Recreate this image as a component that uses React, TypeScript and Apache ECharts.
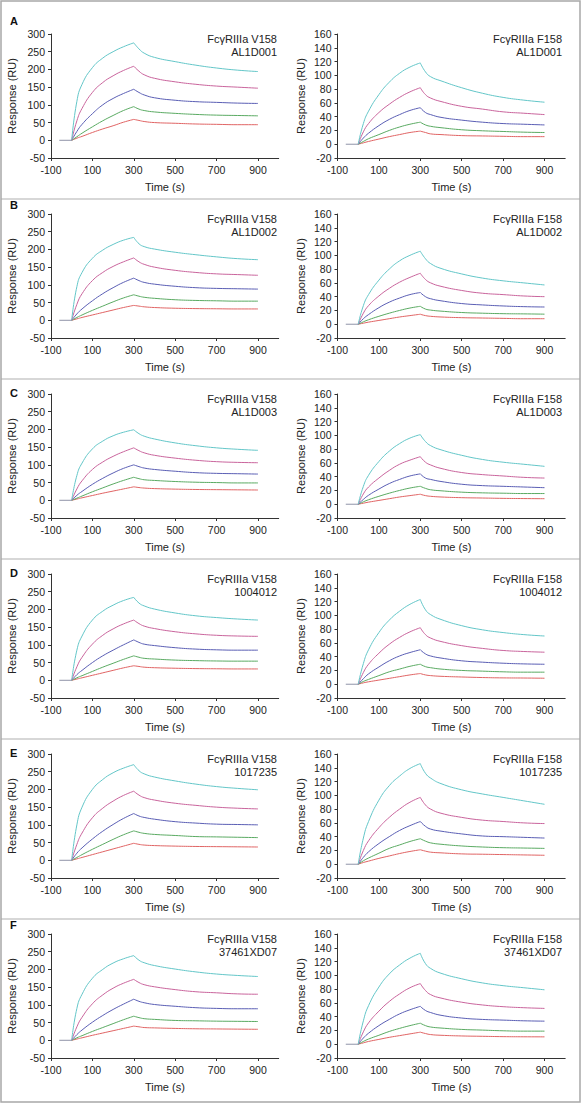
import React, { useEffect, useRef } from "react";
import * as echarts from "echarts";

const ROW_LETTERS = ["A", "B", "C", "D", "E", "F"];
const ANTIBODIES = ["AL1D001", "AL1D002", "AL1D003", "1004012", "1017235", "37461XD07"];
const RECEPTORS = ["FcγRIIIa V158", "FcγRIIIa F158"];
const CURVE_COLORS = ["#63c6c8", "#c9649c", "#5a5eb4", "#5aaa62", "#e06464"];
const BASELINE_COLOR = "#8f93a8";

const BASELINE_T = [-60, 0];
const BASELINE_Y = [0, 0];
const ASSOC_T = [0, 25, 50, 100, 150, 200, 250, 300];
const DISSOC_T = [325, 350, 400, 500, 600, 700, 800, 900];
const X_TICKS = [-100, 100, 300, 500, 700, 900];

const V158_AXIS = { min: -50, max: 300, interval: 50 };
const F158_AXIS = { min: -20, max: 160, interval: 20 };

// each: [cyan, magenta, blue, green, red]
const A_V158_ASSOC = [
  [0, 110, 158, 205, 232, 250, 264, 275],
  [0, 55, 90, 135, 163, 182, 197, 209],
  [0, 25, 45, 75, 100, 118, 132, 144],
  [0, 10, 20, 38, 55, 70, 84, 95],
  [0, 6, 11, 22, 32, 41, 51, 59],
];
const A_V158_DISSOC = [
  [258, 246, 234, 222, 212, 204, 198, 194],
  [195, 185, 175, 165, 158, 153, 150, 147],
  [135, 128, 120, 113, 109, 107, 105, 104],
  [88, 84, 80, 76, 73, 71, 70, 69],
  [56, 53, 50, 48, 46, 45, 44, 44],
];
const A_F158_ASSOC = [
  [0, 30, 48, 72, 90, 103, 112, 118],
  [0, 18, 30, 46, 58, 68, 76, 82],
  [0, 9, 16, 27, 36, 43, 49, 53],
  [0, 4, 8, 14, 20, 25, 29, 32],
  [0, 2, 4, 7.5, 11, 14, 17, 19],
];
const A_F158_DISSOC = [
  [105, 98, 92, 82, 74, 68, 64, 61],
  [72, 67, 62, 55, 51, 47, 45, 43],
  [46, 43, 39, 35, 32, 30, 29, 28],
  [28, 26, 24, 21, 19.5, 18.5, 17.5, 17],
  [17, 15, 14, 12.5, 12, 11.5, 11, 11],
];

const B_V158_ASSOC = [
  [0, 95, 135, 175, 198, 214, 226, 234],
  [0, 45, 75, 112, 135, 152, 165, 176],
  [0, 18, 32, 55, 75, 92, 107, 119],
  [0, 8, 15, 28, 40, 52, 63, 72],
  [0, 4, 8, 15, 22, 29, 36, 42],
];
const B_V158_DISSOC = [
  [216, 208, 201, 192, 185, 179, 174, 171],
  [165, 158, 150, 141, 135, 131, 129, 127],
  [112, 107, 102, 96, 92, 90, 89, 88],
  [68, 65, 62, 58, 56, 55, 54, 54],
  [40, 38, 36, 34, 33, 32.5, 32, 32],
];
const B_F158_ASSOC = [
  [0, 27, 43, 64, 80, 92, 100, 106],
  [0, 16, 27, 41, 52, 61, 68, 74],
  [0, 8, 14, 24, 32, 38, 43, 46],
  [0, 3.5, 6.5, 11.5, 16, 20, 23.5, 26],
  [0, 1.5, 3, 5.5, 8, 10.5, 12.5, 14.5],
];
const B_F158_DISSOC = [
  [95, 88, 81, 73, 67, 63, 60, 57],
  [65, 60, 55, 49, 45, 43, 41, 40],
  [40, 37, 34, 30, 28, 26.5, 25.5, 25],
  [22, 20.5, 19, 17, 16, 15.3, 15, 14.6],
  [12.5, 11.5, 10.5, 9.5, 9, 8.5, 8, 8],
];

const C_V158_ASSOC = [
  [0, 70, 105, 145, 167, 182, 192, 199],
  [0, 32, 55, 87, 108, 124, 137, 148],
  [0, 14, 25, 45, 62, 77, 90, 100],
  [0, 6, 12, 24, 35, 46, 56, 65],
  [0, 3.5, 7, 13.5, 20, 26, 32, 38],
];
const C_V158_DISSOC = [
  [188, 181, 173, 162, 154, 148, 144, 141],
  [140, 134, 127, 119, 113, 109, 107, 106],
  [95, 91, 87, 82, 78, 76, 75, 74],
  [61, 58, 56, 53, 51, 50, 49, 49],
  [36, 34.5, 33, 31.5, 30.5, 30, 29.5, 29],
];
const C_F158_ASSOC = [
  [0, 26, 42, 62, 77, 88, 96, 101],
  [0, 15, 25, 38, 49, 58, 64, 69],
  [0, 7, 13, 22, 30, 36, 41, 44],
  [0, 3.5, 6.5, 11.5, 16, 20, 23.5, 26],
  [0, 1.5, 3, 5.5, 8, 10.5, 12.5, 14.5],
];
const C_F158_DISSOC = [
  [91, 85, 79, 71, 65, 61, 58, 55],
  [61, 57, 52, 46, 43, 41, 39, 38],
  [38, 36, 33, 29, 27, 26, 25, 24],
  [23, 21, 19.5, 17.5, 16.5, 16, 15.5, 15.5],
  [12.5, 11.5, 10.5, 9.5, 9, 8.5, 8.2, 8],
];

const D_V158_ASSOC = [
  [0, 85, 125, 170, 195, 212, 225, 234],
  [0, 38, 65, 102, 127, 145, 159, 170],
  [0, 16, 28, 50, 69, 85, 100, 114],
  [0, 7, 13, 25, 37, 48, 59, 69],
  [0, 3.5, 7, 14, 21, 28, 35, 41],
];
const D_V158_DISSOC = [
  [218, 210, 201, 190, 182, 177, 173, 170],
  [160, 153, 146, 137, 131, 127, 125, 124],
  [107, 102, 98, 92, 88, 86, 85, 85],
  [65, 62, 60, 57, 55.5, 54.5, 54, 54],
  [39, 37, 35.5, 34, 33, 32.5, 32, 32],
];
const D_F158_ASSOC = [
  [0, 30, 50, 75, 93, 106, 116, 123],
  [0, 17, 29, 45, 58, 68, 76, 82],
  [0, 8, 15, 25, 34, 41, 46, 50],
  [0, 4, 7, 12.5, 18, 22, 26, 29],
  [0, 2, 3.5, 6, 8.5, 11, 13.5, 15.5],
];
const D_F158_DISSOC = [
  [108, 101, 94, 85, 79, 75, 72, 70],
  [72, 67, 62, 56, 52, 49, 47.5, 46.5],
  [44, 41, 38, 34, 32, 30.5, 29.5, 29],
  [25.5, 24, 22, 20, 19, 18, 17.5, 17.5],
  [13.5, 12.5, 11.5, 10.5, 9.7, 9.2, 9, 8.7],
];

const E_V158_ASSOC = [
  [0, 100, 150, 200, 228, 247, 260, 270],
  [0, 45, 77, 120, 147, 167, 183, 195],
  [0, 20, 35, 60, 82, 101, 118, 132],
  [0, 8, 16, 31, 45, 59, 72, 83],
  [0, 4, 8, 16, 24, 32, 40, 48],
];
const E_V158_DISSOC = [
  [253, 244, 235, 224, 215, 208, 203, 199],
  [184, 177, 170, 161, 155, 150, 147, 145],
  [125, 121, 116, 109, 105, 102, 101, 100],
  [79, 76, 73, 70, 67, 66, 65, 64],
  [45, 43, 41.5, 40, 39, 38.5, 38, 37.5],
];
const E_F158_ASSOC = [
  [0, 38, 62, 93, 114, 128, 139, 146],
  [0, 20, 34, 53, 68, 80, 90, 97],
  [0, 10, 18, 30, 40, 49, 56, 62],
  [0, 5, 9, 16, 23, 28, 33, 37],
  [0, 2.5, 4.5, 8.5, 12, 15.5, 18.5, 21],
];
const E_F158_DISSOC = [
  [132, 125, 117, 108, 102, 97, 92, 87],
  [86, 80, 74, 68, 64, 62, 60, 59],
  [55, 51, 48, 44, 41, 40, 39, 38],
  [33.5, 31, 29, 26.5, 25, 24, 23.5, 23],
  [19, 17.5, 16.5, 15, 14.5, 14, 13.5, 13],
];

const F_V158_ASSOC = [
  [0, 90, 130, 175, 200, 218, 230, 239],
  [0, 38, 65, 103, 128, 147, 161, 172],
  [0, 16, 29, 51, 70, 87, 102, 116],
  [0, 7, 13, 25, 36, 47, 58, 68],
  [0, 3.5, 7, 14, 20.5, 27, 33.5, 40],
];
const F_V158_DISSOC = [
  [226, 219, 211, 201, 193, 187, 183, 180],
  [163, 157, 151, 143, 137, 134, 131, 130],
  [110, 106, 101, 96, 92, 90, 89, 89],
  [64, 61, 59, 56, 55, 54, 53.5, 53],
  [38, 36, 35, 33.5, 32.5, 32, 31.5, 31],
];
const F_F158_ASSOC = [
  [0, 34, 56, 83, 102, 115, 125, 132],
  [0, 18, 31, 48, 62, 73, 82, 88],
  [0, 9, 16, 27, 36, 44, 50, 55],
  [0, 4, 7.5, 13, 18.5, 23, 27, 30.5],
  [0, 2, 4, 7, 10, 12.5, 15, 17.5],
];
const F_F158_DISSOC = [
  [117, 110, 103, 95, 89, 85, 82, 79],
  [78, 72, 67, 61, 57, 54.5, 53, 52],
  [49, 46, 42, 38, 36, 35, 34, 33.5],
  [27, 25, 23.5, 21.5, 20.5, 19.5, 19, 19],
  [15.5, 14, 13, 12, 11.5, 11, 10.8, 10.7],
];

const PANELS = [
  [[A_V158_ASSOC, A_V158_DISSOC], [A_F158_ASSOC, A_F158_DISSOC]],
  [[B_V158_ASSOC, B_V158_DISSOC], [B_F158_ASSOC, B_F158_DISSOC]],
  [[C_V158_ASSOC, C_V158_DISSOC], [C_F158_ASSOC, C_F158_DISSOC]],
  [[D_V158_ASSOC, D_V158_DISSOC], [D_F158_ASSOC, D_F158_DISSOC]],
  [[E_V158_ASSOC, E_V158_DISSOC], [E_F158_ASSOC, E_F158_DISSOC]],
  [[F_V158_ASSOC, F_V158_DISSOC], [F_F158_ASSOC, F_F158_DISSOC]],
];

const FONT = '"Liberation Sans", Arial, sans-serif';
const TEXT_COLOR = "#222";
const AXIS_COLOR = "#333";
const W = 582;
const H = 1107;

export default function App() {
  const ref = useRef<HTMLDivElement>(null);
  useEffect(() => {
    if (!ref.current) return;
    const chart = echarts.init(ref.current, undefined, { renderer: "svg" });

    const grid: any[] = [];
    const xAxis: any[] = [];
    const yAxis: any[] = [];
    const series: any[] = [];
    const graphic: any[] = [];

    const rowTop = 34;
    const rowStep = 180;
    const gridH = 124;
    const gridW = 227.7;
    const lefts = [51, 337.5];
    const letterY = [21, 205, 393, 573, 753, 925];

    PANELS.forEach((row, r) => {
      row.forEach((panel, c) => {
        const idx = grid.length;
        const ax = c === 0 ? V158_AXIS : F158_AXIS;
        grid.push({ left: lefts[c], top: rowTop + r * rowStep, width: gridW, height: gridH, containLabel: false });
        xAxis.push({
          type: "value",
          gridIndex: idx,
          min: -100,
          max: 1000,
          axisLine: { show: true, onZero: false, lineStyle: { color: AXIS_COLOR, width: 1 } },
          axisTick: { show: true, length: 3, customValues: X_TICKS, lineStyle: { color: AXIS_COLOR } },
          axisLabel: { customValues: X_TICKS, fontSize: 10.5, color: TEXT_COLOR, fontFamily: FONT, margin: 6 },
          splitLine: { show: false },
          name: "Time (s)",
          nameLocation: "middle",
          nameGap: 23,
          nameTextStyle: { fontSize: 11, color: TEXT_COLOR, fontFamily: FONT },
        });
        yAxis.push({
          type: "value",
          gridIndex: idx,
          min: ax.min,
          max: ax.max,
          interval: ax.interval,
          axisLine: { show: true, onZero: false, lineStyle: { color: AXIS_COLOR, width: 1 } },
          axisTick: { show: true, length: 3, lineStyle: { color: AXIS_COLOR } },
          axisLabel: { fontSize: 10.5, color: TEXT_COLOR, fontFamily: FONT, margin: 6 },
          splitLine: { show: false },
          name: "Response (RU)",
          nameLocation: "middle",
          nameGap: c === 0 ? 34 : 31,
          nameTextStyle: { fontSize: 11, color: TEXT_COLOR, fontFamily: FONT },
        });
        const [assoc, dissoc] = panel;
        for (let k = CURVE_COLORS.length - 1; k >= 0; k--) {
          const a = assoc[k];
          const d = dissoc[k];
          const peak = a[a.length - 1];
          const data: any[] = [];
          ASSOC_T.forEach((t, i) => data.push([t, a[i]]));
          data.push([300, "-"]);
          data.push([ASSOC_T[ASSOC_T.length - 1], peak]);
          DISSOC_T.forEach((t, i) => data.push([t, d[i]]));
          series.push({
            type: "line",
            xAxisIndex: idx,
            yAxisIndex: idx,
            data,
            smooth: 0.5,
            showSymbol: false,
            silent: true,
            connectNulls: false,
            lineStyle: { color: CURVE_COLORS[k], width: 1 },
            itemStyle: { color: CURVE_COLORS[k] },
          });
        }
        series.push({
          type: "line",
          xAxisIndex: idx,
          yAxisIndex: idx,
          data: BASELINE_T.map((t, i) => [t, BASELINE_Y[i]]),
          showSymbol: false,
          silent: true,
          lineStyle: { color: BASELINE_COLOR, width: 1 },
        });
        const tx = c === 0 ? 277 : 562;
        const ty = rowTop + r * rowStep;
        graphic.push({
          type: "text",
          x: tx,
          y: ty + 5,
          style: { text: RECEPTORS[c], fill: TEXT_COLOR, font: `11px ${FONT}`, align: "right", verticalAlign: "middle" },
        });
        graphic.push({
          type: "text",
          x: tx,
          y: ty + 18,
          style: { text: ANTIBODIES[r], fill: TEXT_COLOR, font: `11px ${FONT}`, align: "right", verticalAlign: "middle" },
        });
      });
      graphic.push({
        type: "text",
        x: 10,
        y: letterY[r],
        style: { text: ROW_LETTERS[r], fill: "#111", font: `bold 11px ${FONT}`, align: "left", verticalAlign: "middle" },
      });
      if (r > 0) {
        const sy = 199 + (r - 1) * rowStep;
        graphic.push({
          type: "line",
          shape: { x1: 1, y1: sy, x2: 580, y2: sy },
          style: { stroke: "#b0b0b0", lineWidth: 1.2 },
        });
      }
    });
    graphic.push({
      type: "rect",
      shape: { x: 1, y: 1, width: 579, height: 1101 },
      style: { fill: "none", stroke: "#a8a8a8", lineWidth: 1.5 },
    });

    chart.setOption({
      animation: false,
      backgroundColor: "#fff",
      textStyle: { fontFamily: FONT },
      grid,
      xAxis,
      yAxis,
      series,
      graphic,
    });
    return () => chart.dispose();
  }, []);
  return <div ref={ref} style={{ position: "fixed", left: 0, top: 0, width: W, height: H }} />;
}
